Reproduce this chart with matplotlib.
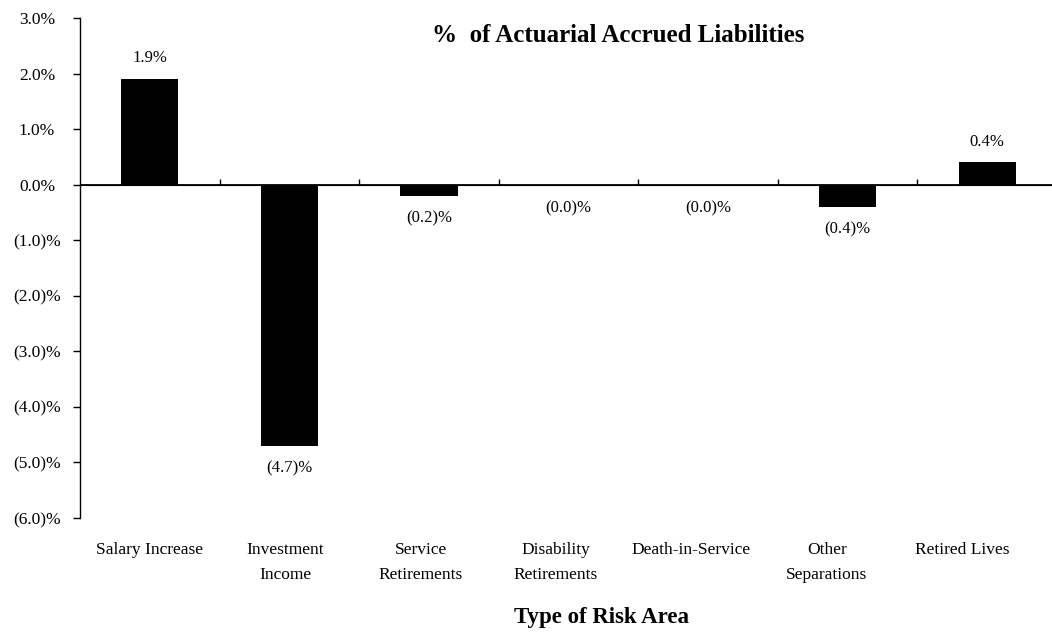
#!/usr/bin/env python3
"""Gain/loss by type of risk area, as % of actuarial accrued liabilities."""
import matplotlib

matplotlib.use("Agg")
import matplotlib.pyplot as plt
import numpy as np
from matplotlib.ticker import FixedLocator, FuncFormatter

categories = [
    "Salary Increase",
    "Investment\nIncome",
    "Service\nRetirements",
    "Disability\nRetirements",
    "Death-in-Service",
    "Other\nSeparations",
    "Retired Lives",
]
pct_of_aal = [1.9, -4.7, -0.2, -0.02, -0.02, -0.4, 0.4]
y_ticks = [3, 2, 1, 0, -1, -2, -3, -4, -5, -6]


def pct_label(v, _pos=None):
    """Accounting style: negatives in parentheses."""
    if v < 0:
        return f"({abs(v):.1f})%"
    return f"{v:.1f}%"


plt.rcParams["font.family"] = ["Liberation Serif", "DejaVu Serif"]

fig = plt.figure(figsize=(10.52, 6.33), dpi=100)
ax = fig.add_axes([80 / 1052, 115 / 633, 977 / 1052, 500 / 633])

x = np.arange(len(categories))
bars = ax.bar(x, pct_of_aal, width=0.41, color="black")

ax.set_xlim(-0.5, len(categories) - 0.5)
ax.set_ylim(-6, 3)
ax.axhline(0, color="black", lw=1.3, zorder=3)

# value labels above/below each bar
for xi, v in zip(x, pct_of_aal):
    off = 15 if v > 0 else -16
    ax.annotate(pct_label(v), (xi, v), xytext=(0, off), textcoords="offset points",
                ha="center", va="center", fontsize=12)

# y axis
for side in ("top", "right", "bottom"):
    ax.spines[side].set_visible(False)
ax.spines["left"].set_linewidth(1.0)
ax.yaxis.set_major_locator(FixedLocator(y_ticks))
ax.yaxis.set_major_formatter(FuncFormatter(pct_label))
ax.tick_params(axis="y", direction="out", length=5, width=1, pad=26, labelsize=12.5)
for t in ax.get_yticklabels():
    t.set_horizontalalignment("center")

# category labels under the plot
label_x = x * 0.97
ax.set_xticks(label_x, categories)
ax.tick_params(axis="x", length=0, pad=17, labelsize=12.5)
for t in ax.get_xticklabels():
    t.set_linespacing(1.75)
    t.set_verticalalignment("top")

# small ticks on the zero line between categories
sec = ax.secondary_xaxis(2 / 3)
sec.set_xticks(x[:-1] + 0.5, [])
sec.tick_params(direction="out", length=4, width=1)
sec.spines["bottom"].set_visible(False)

fig.text(618 / 1052, 1 - 35 / 633, "%  of Actuarial Accrued Liabilities",
         ha="center", va="center", fontsize=18, fontweight="bold")
fig.text(602 / 1052, 1 - 617 / 633, "Type of Risk Area",
         ha="center", va="center", fontsize=16.5, fontweight="bold")

fig.savefig("out.png", dpi=100)
